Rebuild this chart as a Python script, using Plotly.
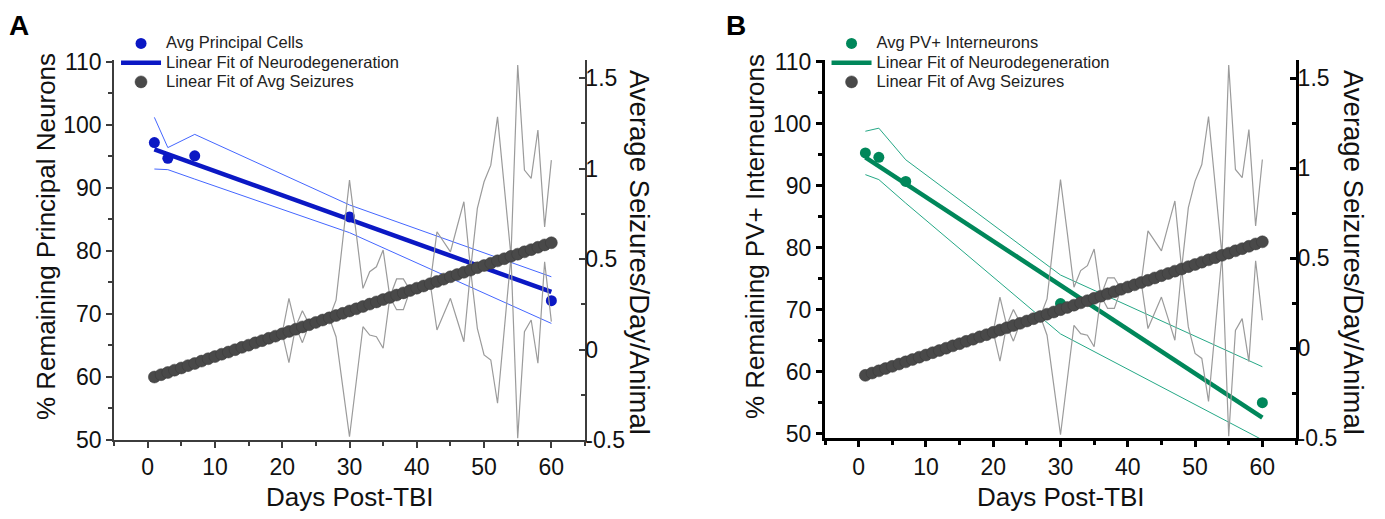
import plotly.graph_objects as go

# %%
# neurodegeneration data (panel A: principal cells, panel B: PV+ interneurons)
neuro_days = [1, 3, 7, 30, 60]
principal_avg = [97.2, 94.7, 95.1, 85.4, 72.1]
principal_fit = [96.1, 73.5]
principal_upper = [101.2, 96.4, 98.5, 87.3, 75.9]
principal_lower = [93.0, 92.9, 91.4, 82.9, 68.5]

pv_avg = [95.3, 94.6, 90.7, 71.0, 55.0]
pv_fit = [94.6, 52.6]
pv_upper = [98.8, 99.3, 94.2, 75.6, 60.8]
pv_lower = [91.8, 91.0, 87.2, 66.1, 49.0]
fit_days = [1, 60]

# seizures per day per animal (linear fit markers + upper/lower spread)
seizure_days = list(range(1, 61))
seizure_fit = [
    -0.152, -0.139, -0.127, -0.114, -0.102, -0.089, -0.077, -0.064, -0.051, -0.039,
    -0.026, -0.014, -0.001, 0.012, 0.024, 0.037, 0.049, 0.062, 0.074, 0.087,
    0.100, 0.112, 0.125, 0.137, 0.150, 0.163, 0.175, 0.188, 0.200, 0.213,
    0.225, 0.238, 0.251, 0.263, 0.276, 0.288, 0.301, 0.313, 0.326, 0.339,
    0.351, 0.364, 0.376, 0.389, 0.402, 0.414, 0.427, 0.439, 0.452, 0.464,
    0.477, 0.490, 0.502, 0.515, 0.527, 0.540, 0.552, 0.565, 0.578, 0.590,
]
# no spread drawn before day 20
seizure_upper = [None] * 19 + [
    0.09, 0.283, 0.126, 0.214, 0.14, 0.15, 0.163, 0.176, 0.273, 0.605,  # 20-29
    0.936, 0.642, 0.338, 0.43, 0.457, 0.55, 0.29, 0.39, 0.39, 0.327,  # 30-39
    0.339, 0.351, 0.365, 0.651, 0.597, 0.540, 0.68, 0.817, 0.44, 0.78,  # 40-49
    0.927, 1.019, 1.286, 0.90, 0.515, 1.572, 0.992, 0.946, 1.213, 0.678,  # 50-59
    1.047,  # 60
]
seizure_lower = [None] * 19 + [
    0.09, -0.073, 0.126, 0.038, 0.14, 0.15, 0.163, 0.176, 0.071, -0.206,  # 20-29
    -0.482, -0.178, 0.126, 0.08, 0.071, 0.007, 0.29, 0.22, 0.22, 0.327,  # 30-39
    0.339, 0.351, 0.365, 0.108, 0.195, 0.283, 0.163, 0.043, 0.44, 0.117,  # 40-49
    -0.03, -0.058, -0.297, 0.109, 0.515, -0.49, 0.098, 0.163, -0.076, 0.485,  # 50-59
    0.154,  # 60
]

FONT = "Arial, Liberation Sans, sans-serif"
GREY_MARK = "#494949"
W, H = 1385, 519
OFF = 8  # page body margin shifts the figure down/right


def px_x(px):
    return (px - OFF) / W


def px_y(py):
    return 1 - (py - OFF) / H


def legend_name(text):
    # bigger text than the legend base font keeps rows tight
    return f'<span style="font-size:16.5px">{text}</span>'


panels = [
    {
        "x": "x", "y": "y", "y2": "y2", "legend": "legend",
        "avg": principal_avg, "fit": principal_fit,
        "upper": principal_upper, "lower": principal_lower,
        "name": "Avg Principal Cells", "dark": "#0b18c4", "light": "#4466ff",
    },
    {
        "x": "x2", "y": "y3", "y2": "y4", "legend": "legend2",
        "avg": pv_avg, "fit": pv_fit, "upper": pv_upper, "lower": pv_lower,
        "name": "Avg PV+ Interneurons", "dark": "#00875a", "light": "#25a886",
    },
]

fig = go.Figure()
for p in panels:
    # confidence bands of neurodegeneration fit
    for band in (p["upper"], p["lower"]):
        fig.add_trace(go.Scatter(
            x=neuro_days, y=band, xaxis=p["x"], yaxis=p["y"], mode="lines",
            line={"color": p["light"], "width": 1}, showlegend=False,
            hoverinfo="skip"))
    fig.add_trace(go.Scatter(
        x=neuro_days, y=p["avg"], xaxis=p["x"], yaxis=p["y"], mode="markers",
        marker={"color": p["dark"], "size": 11}, name=legend_name(p["name"]),
        legend=p["legend"], legendrank=1))
    fig.add_trace(go.Scatter(
        x=fit_days, y=p["fit"], xaxis=p["x"], yaxis=p["y"], mode="lines",
        line={"color": p["dark"], "width": 4.5},
        name=legend_name("Linear Fit of Neurodegeneration"),
        legend=p["legend"], legendrank=2))
    # seizure spread lines
    for band in (seizure_upper, seizure_lower):
        fig.add_trace(go.Scatter(
            x=seizure_days, y=band, xaxis=p["x"], yaxis=p["y2"], mode="lines",
            line={"color": "#9b9b9b", "width": 1.2}, showlegend=False,
            hoverinfo="skip"))
    fig.add_trace(go.Scatter(
        x=seizure_days, y=seizure_fit, xaxis=p["x"], yaxis=p["y2"],
        mode="markers",
        marker={"color": GREY_MARK, "size": 12,
                "line": {"color": "#3a3a3a", "width": 0.5}},
        name=legend_name("Linear Fit of Avg Seizures"), legend=p["legend"],
        legendrank=3))

tickfont = {"family": FONT, "size": 23, "color": "#111"}


def xaxis_style(domain, anchor, line_color, line_width):
    return {
        "domain": domain, "anchor": anchor, "range": [-5, 65],
        "tickvals": [0, 10, 20, 30, 40, 50, 60], "ticks": "outside",
        "ticklen": 6, "tickwidth": line_width, "tickcolor": line_color,
        "minor": {"dtick": 5, "tick0": 0, "ticks": "outside", "ticklen": 4,
                  "tickwidth": line_width, "tickcolor": line_color},
        "showline": True, "linecolor": line_color, "linewidth": line_width,
        "showgrid": False, "zeroline": False, "tickfont": tickfont,
    }


def left_style(domain, anchor, rng, line_color, line_width):
    return {
        "domain": domain, "anchor": anchor, "range": rng,
        "tickvals": [50, 60, 70, 80, 90, 100, 110], "ticks": "outside",
        "ticklen": 6, "tickwidth": line_width, "tickcolor": line_color,
        "minor": {"dtick": 5, "tick0": 0, "ticks": "outside", "ticklen": 4,
                  "tickwidth": line_width, "tickcolor": line_color},
        "showline": True, "linecolor": line_color, "linewidth": line_width,
        "showgrid": False, "zeroline": False, "tickfont": tickfont,
    }


def right_style(anchor, overlay, line_color, line_width):
    return {
        "anchor": anchor, "overlaying": overlay, "side": "right",
        "range": [-0.5, 1.6], "tickvals": [-0.5, 0, 0.5, 1, 1.5],
        "ticktext": ["-0.5", "0", "0.5", "1", "1.5"],
        "ticks": "inside", "ticklen": 6, "tickwidth": line_width,
        "tickcolor": line_color, "ticklabelstandoff": -6,
        "minor": {"dtick": 0.25, "tick0": 0, "ticks": "inside", "ticklen": 4,
                  "tickwidth": line_width, "tickcolor": line_color},
        "showline": True, "linecolor": line_color, "linewidth": line_width,
        "showgrid": False, "zeroline": False, "tickfont": tickfont,
    }


xdom_a = [px_x(114), px_x(585)]
xdom_b = [px_x(825), px_x(1296)]
ydom_a = [px_y(440), px_y(60)]
ydom_b = [px_y(438), px_y(60)]
legend_font = {"family": FONT, "size": 12.5, "color": "#222"}

fig.update_layout(
    width=W, height=H,
    margin={"l": 0, "r": 0, "t": 0, "b": 0, "autoexpand": False},
    paper_bgcolor="white", plot_bgcolor="rgba(0,0,0,0)",
    font={"family": FONT, "color": "#111"},
    xaxis=xaxis_style(xdom_a, "y", "#3c3c3c", 1.5),
    yaxis=left_style(ydom_a, "x", [50, 110.3], "#3c3c3c", 1.5),
    yaxis2=right_style("x", "y", "#3c3c3c", 1.5),
    xaxis2=xaxis_style(xdom_b, "y3", "black", 3),
    yaxis3=left_style(ydom_b, "x2", [49.3, 110.3], "black", 3),
    yaxis4=right_style("x2", "y3", "black", 3),
    legend={"x": 0.078, "y": 0.96, "xanchor": "left", "yanchor": "top",
            "bgcolor": "rgba(0,0,0,0)", "font": legend_font,
            "tracegroupgap": 0, "itemwidth": 40},
    legend2={"x": 0.591, "y": 0.96, "xanchor": "left", "yanchor": "top",
             "bgcolor": "rgba(0,0,0,0)", "font": legend_font,
             "tracegroupgap": 0, "itemwidth": 40},
    showlegend=True,
)

title_font = {"family": FONT, "size": 26, "color": "#111"}
right_font = {"family": FONT, "size": 27.5, "color": "#111"}
bold = {"family": FONT, "size": 28, "color": "black", "weight": "bold"}

# panel letters sit at the very top of the figure
for letter, sx in (("A", 19), ("B", 736)):
    fig.add_annotation(text=letter, x=px_x(sx), y=1, xref="paper",
                       yref="paper", xanchor="center", yanchor="top",
                       showarrow=False, font=bold)

annotations = [
    ("% Remaining Principal Neurons", 46, 237, -90, title_font),
    ("% Remaining PV+ Interneurons", 755, 237, -90, title_font),
    ("Average Seizures/Day/Animal", 640, 252, 90, right_font),
    ("Average Seizures/Day/Animal", 1354, 252, 90, right_font),
    ("Days Post-TBI", 350, 497, 0, title_font),
    ("Days Post-TBI", 1061, 497, 0, title_font),
]
for text, sx, sy, angle, font in annotations:
    fig.add_annotation(text=text, x=px_x(sx), y=px_y(sy), xref="paper",
                       yref="paper", xanchor="center", yanchor="middle",
                       showarrow=False, textangle=angle, font=font)

fig.write_html("out.html")
